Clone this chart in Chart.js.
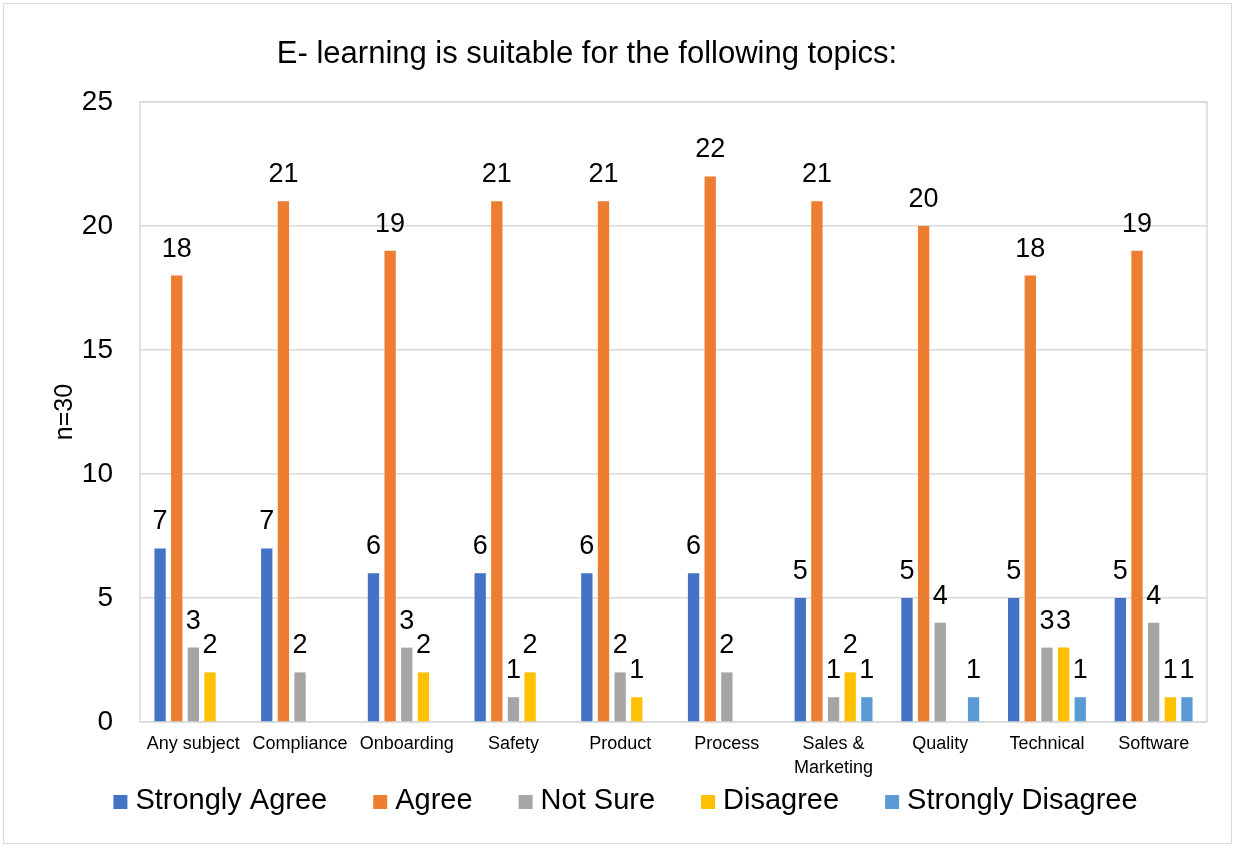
<!DOCTYPE html>
<html>
<head>
<meta charset="utf-8">
<script src="https://cdn.jsdelivr.net/npm/chart.js@4.4.1/dist/chart.umd.min.js"></script>
<style>
  html, body { margin: 0; padding: 0; background: #fff; }
</style>
</head>
<body>
<canvas id="chart" width="1235" height="847"></canvas>
<script>
// data
const topics = ['Any subject', 'Compliance', 'Onboarding', 'Safety', 'Product', 'Process', ['Sales &', 'Marketing'], 'Quality', 'Technical', 'Software'];
const stronglyAgree = [7, 7, 6, 6, 6, 6, 5, 5, 5, 5];
const agree = [18, 21, 19, 21, 21, 22, 21, 20, 18, 19];
const notSure = [3, 2, 3, 1, 2, 2, 1, 4, 3, 4];
const disagree = [2, null, 2, 2, 1, null, 2, null, 3, 1];
const stronglyDisagree = [null, null, null, null, null, null, 1, 1, 1, 1];
const seriesNames = ['Strongly Agree', 'Agree', 'Not Sure', 'Disagree', 'Strongly Disagree'];
const seriesColors = ['#4472C4', '#ED7D31', '#A5A5A5', '#FFC000', '#5B9BD5'];
const titleText = 'E- learning is suitable for the following topics:';
const yTitle = 'n=30';

const FONT = "'Liberation Sans', Arial, sans-serif";
Chart.defaults.font.family = FONT;
Chart.defaults.color = '#000';

// value labels above each bar
const valueLabels = {
  id: 'valueLabels',
  afterDatasetsDraw(chart) {
    const ctx = chart.ctx;
    ctx.save();
    ctx.font = '27px ' + FONT;
    ctx.fillStyle = '#000';
    ctx.textAlign = 'center';
    ctx.textBaseline = 'alphabetic';
    chart.data.datasets.forEach((ds, i) => {
      chart.getDatasetMeta(i).data.forEach((bar, j) => {
        const v = ds.data[j];
        if (v === null || v === undefined) return;
        ctx.fillText(String(v), bar.x, bar.y - 19);
      });
    });
    ctx.restore();
  }
};

// frame, chart title, axis title and legend
const decorations = {
  id: 'decorations',
  beforeDatasetsDraw(chart) {
    const { ctx, chartArea: a } = chart;
    ctx.save();
    ctx.strokeStyle = '#d9d9d9';
    ctx.lineWidth = 1.5;
    ctx.strokeRect(a.left, a.top, a.right - a.left, a.bottom - a.top);
    ctx.restore();
  },
  afterDraw(chart) {
    const { ctx, chartArea: a } = chart;
    ctx.save();
    ctx.strokeStyle = '#d9d9d9';
    ctx.lineWidth = 1;
    ctx.strokeRect(3.5, 3.5, chart.width - 7, chart.height - 7);

    ctx.fillStyle = '#000';
    ctx.textAlign = 'center';
    ctx.textBaseline = 'alphabetic';
    ctx.font = '31px ' + FONT;
    ctx.fillText(titleText, 587, 63);

    // legend
    ctx.font = '29px ' + FONT;
    ctx.textAlign = 'left';
    ctx.textBaseline = 'middle';
    const items = chart.data.datasets.map(ds => ({ text: ds.label, color: ds.backgroundColor, w: ctx.measureText(ds.label).width }));
    const box = 14, textOff = 22, gapItem = 46;
    const total = items.reduce((s, it) => s + textOff + it.w, 0) + gapItem * (items.length - 1);
    let x = 625.5 - total / 2;
    const ly = 801;
    items.forEach(it => {
      ctx.fillStyle = it.color;
      ctx.fillRect(x, ly - box / 2 + 1, box, box);
      ctx.fillStyle = '#000';
      ctx.fillText(it.text, x + textOff, ly);
      x += textOff + it.w + gapItem;
    });

    // y axis title
    ctx.textAlign = 'center';
    ctx.textBaseline = 'alphabetic';
    ctx.translate(72, (a.top + a.bottom) / 2);
    ctx.rotate(-Math.PI / 2);
    ctx.font = '25px ' + FONT;
    ctx.fillText(yTitle, 0, 0);
    ctx.restore();
  }
};

const seriesData = [stronglyAgree, agree, notSure, disagree, stronglyDisagree];

new Chart(document.getElementById('chart'), {
  type: 'bar',
  data: {
    labels: topics,
    datasets: seriesData.map((d, i) => ({
      label: seriesNames[i],
      data: d,
      backgroundColor: seriesColors[i],
      categoryPercentage: 0.78,
      barPercentage: 0.68
    }))
  },
  options: {
    responsive: false,
    animation: false,
    layout: { padding: { left: 0, right: 28, top: 102, bottom: 0 } },
    plugins: {
      title: { display: false },
      tooltip: { enabled: false },
      legend: { display: false }
    },
    scales: {
      x: {
        grid: { display: false, drawTicks: false },
        border: { display: false },
        ticks: { font: { size: 18, lineHeight: 1.33 }, padding: 10, maxRotation: 0, autoSkip: false },
        afterFit(scale) { scale.height = 125; }
      },
      y: {
        min: 0,
        max: 25,
        grid: { color: '#d9d9d9', lineWidth: 1.5, drawTicks: false },
        border: { display: false },
        ticks: { stepSize: 5, font: { size: 28 }, padding: 27 },
        afterFit(scale) { scale.width = 140; }
      }
    }
  },
  plugins: [valueLabels, decorations]
});
</script>
</body>
</html>
